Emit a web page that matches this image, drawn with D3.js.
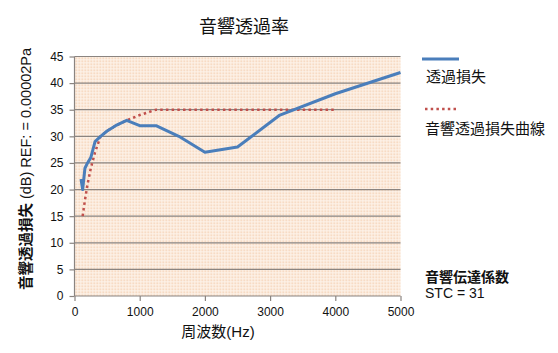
<!DOCTYPE html>
<html>
<head>
<meta charset="utf-8">
<script src="https://cdn.jsdelivr.net/npm/d3@7"></script>
<style>
  body { margin: 0; background: #fff; }
  svg text { font-family: "Liberation Sans", "Noto Sans CJK JP", sans-serif; }
</style>
</head>
<body>
<svg id="chart" width="558" height="353"></svg>
<script>
// frequencies (Hz) and measured transmission loss (dB)
const freqs = [100, 125, 160, 200, 250, 315, 400, 500, 630, 800, 1000, 1250, 1600, 2000, 2500, 3150, 4000, 5000];
const lossValues = [22, 20, 24, 25, 26, 29, 30, 31, 32, 33, 32, 32, 30, 27, 28, 34, 38, 42];
// STC reference contour
const stcFreqs = [125, 160, 200, 250, 315, 400, 500, 630, 800, 1000, 1250, 1600, 2000, 2500, 3150, 4000];
const stcValues = [15, 18, 21, 24, 27, 30, 31, 32, 33, 34, 35, 35, 35, 35, 35, 35];
const xTicks = [0, 1000, 2000, 3000, 4000, 5000];
const yTicks = [0, 5, 10, 15, 20, 25, 30, 35, 40, 45];

const svg = d3.select("#chart");
const margin = {top: 56.5, left: 74.5, right: 157.5, bottom: 57};
const width = 558 - margin.left - margin.right;
const height = 353 - margin.top - margin.bottom;

const x = d3.scaleLinear().domain([0, 5000]).range([0, width]);
const y = d3.scaleLinear().domain([0, 45]).range([height, 0]);

// dotted peach background like the Excel fill
const defs = svg.append("defs");
const pat = defs.append("pattern")
    .attr("id", "dots")
    .attr("width", 3).attr("height", 3)
    .attr("patternUnits", "userSpaceOnUse");
pat.append("rect").attr("width", 3).attr("height", 3).attr("fill", "#fdf3ea");
pat.append("rect").attr("x", 1).attr("y", 1).attr("width", 1.5).attr("height", 1.5).attr("fill", "#f2c9a6");

const g = svg.append("g").attr("transform", `translate(${margin.left},${margin.top})`);

g.append("rect")
    .attr("width", width).attr("height", height)
    .attr("fill", "url(#dots)");

// gridlines
g.selectAll(".grid")
    .data(yTicks.filter(d => d > 0))
    .enter().append("line")
    .attr("class", "grid")
    .attr("x1", 0).attr("x2", width)
    .attr("y1", d => y(d)).attr("y2", d => y(d))
    .attr("stroke", "#8a8480").attr("stroke-width", 1.2);

const yAxis = g.append("g")
    .call(d3.axisLeft(y).tickValues(yTicks).tickSize(5).tickPadding(6));
const xAxis = g.append("g")
    .attr("transform", `translate(0,${height})`)
    .call(d3.axisBottom(x).tickValues(xTicks).tickFormat(d3.format("d")).tickSize(5).tickPadding(6));

[xAxis, yAxis].forEach(ax => {
    ax.selectAll("path, line").attr("stroke", "#8a8480").attr("stroke-width", 1.2);
    ax.selectAll("text").attr("font-size", 12).attr("fill", "#111");
});
yAxis.select(".domain").attr("d", `M0,${height}V0`);
xAxis.select(".domain").attr("d", `M0,0H${width}`);

const line = d3.line().x(d => x(d[0])).y(d => y(d[1]));

// STC curve (red dotted)
g.append("path")
    .datum(stcFreqs.map((f, i) => [f, stcValues[i]]))
    .attr("d", line)
    .attr("fill", "none")
    .attr("stroke", "#c0504d")
    .attr("stroke-width", 2.5)
    .attr("stroke-dasharray", "2.5,3.2");

// transmission loss (blue)
g.append("path")
    .datum(freqs.map((f, i) => [f, lossValues[i]]))
    .attr("d", line)
    .attr("fill", "none")
    .attr("stroke", "#4a7ebb")
    .attr("stroke-width", 3)
    .attr("stroke-linejoin", "round");

// title
svg.append("text")
    .attr("x", 244).attr("y", 33)
    .attr("text-anchor", "middle")
    .attr("font-size", 18)
    .attr("fill", "#111")
    .text("音響透過率");

// axis titles
svg.append("text")
    .attr("x", 218).attr("y", 337)
    .attr("text-anchor", "middle")
    .attr("font-size", 15)
    .attr("fill", "#111")
    .text("周波数(Hz)");

const yl = svg.append("text")
    .attr("transform", "translate(31,169) rotate(-90)")
    .attr("text-anchor", "middle")
    .attr("font-size", 14.5)
    .attr("fill", "#111");
yl.append("tspan").attr("font-weight", "bold").text("音響透過損失");
yl.append("tspan").text(" (dB) REF: = 0.00002Pa");

// legend
const legend = svg.append("g");
legend.append("line")
    .attr("x1", 422).attr("x2", 459).attr("y1", 59).attr("y2", 59)
    .attr("stroke", "#4a7ebb").attr("stroke-width", 3);
legend.append("text")
    .attr("x", 426).attr("y", 82)
    .attr("font-size", 15).attr("fill", "#111")
    .text("透過損失");
legend.append("line")
    .attr("x1", 425).attr("x2", 459).attr("y1", 109).attr("y2", 109)
    .attr("stroke", "#c0504d").attr("stroke-width", 2.5)
    .attr("stroke-dasharray", "2.5,3.2");
legend.append("text")
    .attr("x", 425).attr("y", 134)
    .attr("font-size", 15).attr("fill", "#111")
    .text("音響透過損失曲線");

// STC annotation
svg.append("text")
    .attr("x", 425).attr("y", 282)
    .attr("font-size", 14).attr("font-weight", "bold").attr("fill", "#111")
    .text("音響伝達係数");
svg.append("text")
    .attr("x", 425).attr("y", 298)
    .attr("font-size", 14).attr("fill", "#111")
    .text("STC = 31");
</script>
</body>
</html>
